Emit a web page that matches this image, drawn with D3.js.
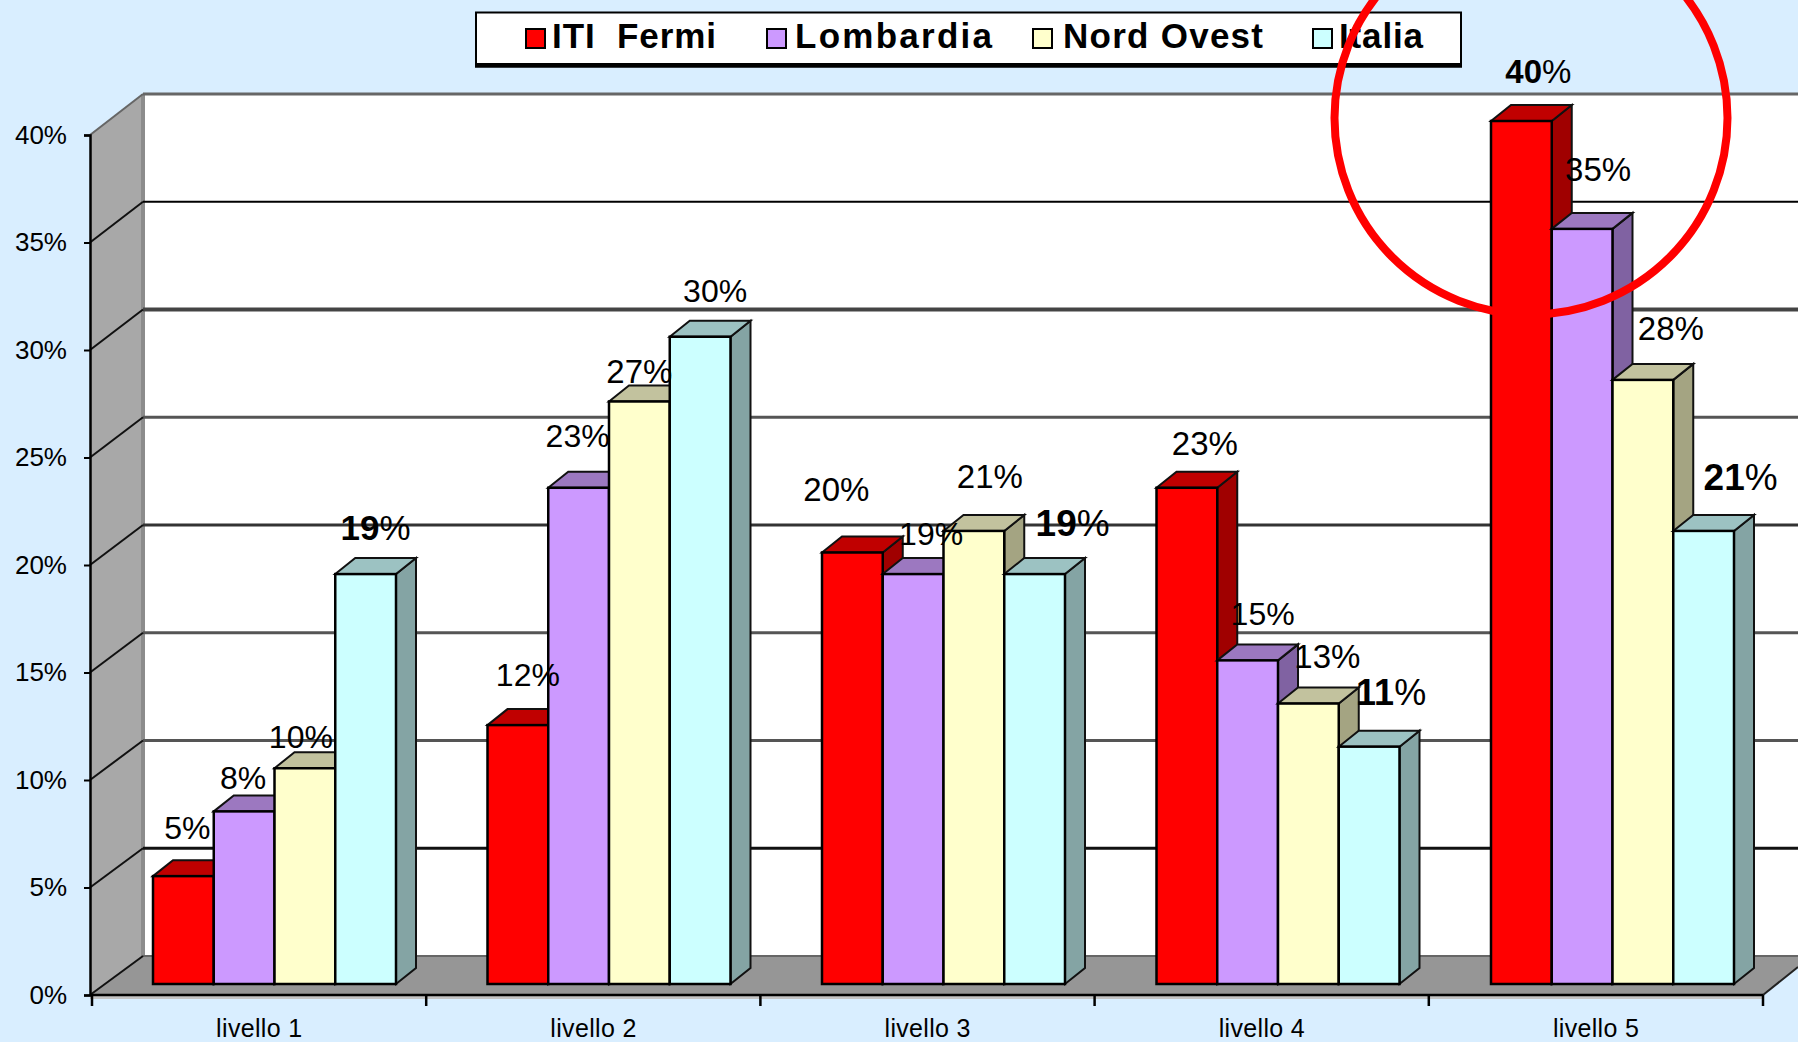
<!DOCTYPE html>
<html>
<head>
<meta charset="utf-8">
<script src="https://cdnjs.cloudflare.com/ajax/libs/d3/7.8.5/d3.min.js"></script>
<style>
  html, body { margin: 0; padding: 0; background: #d9eeff; overflow: hidden; }
  svg { display: block; font-family: "Liberation Sans", Arial, sans-serif; }
  text { white-space: pre; }
</style>
</head>
<body>
<div id="draw"></div>
<script>
var categories = ['livello 1', 'livello 2', 'livello 3', 'livello 4', 'livello 5'];
var seriesNames = ['ITI  Fermi', 'Lombardia', 'Nord Ovest', 'Italia'];
var itiFermi = [5, 12, 20, 23, 40];
var lombardia = [8, 23, 19, 15, 35];
var nordOvest = [10, 27, 21, 13, 28];
var italia = [19, 30, 19, 11, 21];
var yTicks = [0, 5, 10, 15, 20, 25, 30, 35, 40];

var W = 1798, H = 1042;
var allSeries = [itiFermi, lombardia, nordOvest, italia];

// front, top, side of each bar
var fills = [
  ['#ff0000', '#c00000', '#a00000'],
  ['#cc99ff', '#9c78c0', '#8062a2'],
  ['#ffffcc', '#c2c29e', '#a4a482'],
  ['#ccffff', '#9cc2c2', '#84a4a4']
];

// the three planes of the fake 3d box
var yFront = d3.scaleLinear().domain([0, 40]).range([995, 135]);
var yBack = d3.scaleLinear().domain([0, 40]).range([956, 94]);
var yBar = d3.scaleLinear().domain([0, 40]).range([984, 121]);
var xGroup = d3.scaleBand().domain(categories).range([92, 1763]);
var xBarGroup = d3.scaleBand().domain(categories).range([92, 1764.5]); // bars drift a little from the ticks
var xBar = d3.scaleBand().domain(d3.range(4)).range([61, 304]);
var depthX = 20, depthY = 16;
var wallX = 143, axisX = 90;

var svg = d3.select('#draw').append('svg').attr('width', W).attr('height', H);

svg.append('rect').attr('width', W).attr('height', H).attr('fill', '#d9eeff');

// back wall
svg.append('rect')
  .attr('x', wallX).attr('y', yBack(40))
  .attr('width', W - wallX).attr('height', yBack(0) - yBack(40))
  .attr('fill', '#fff');

// left wall
svg.append('polygon')
  .attr('points', [[axisX, yFront(40)], [wallX, yBack(40)], [wallX, yBack(0)], [axisX, yFront(0)]].join(' '))
  .attr('fill', '#a8a8a8');
svg.append('line')
  .attr('x1', wallX).attr('x2', wallX).attr('y1', yBack(40)).attr('y2', yBack(0))
  .attr('stroke', '#8c8c8c').attr('stroke-width', 4);

// floor
svg.append('polygon')
  .attr('points', [[axisX, yFront(0)], [wallX, yBack(0)], [W, yBack(0)], [W, 967], [1763, yFront(0)]].join(' '))
  .attr('fill', '#969696');
svg.append('line')
  .attr('x1', wallX).attr('x2', W).attr('y1', yBack(0)).attr('y2', yBack(0))
  .attr('stroke', '#666').attr('stroke-width', 2);
svg.append('line')
  .attr('x1', 1763).attr('x2', W).attr('y1', yFront(0)).attr('y2', 967)
  .attr('stroke', '#222').attr('stroke-width', 2);
svg.append('rect')
  .attr('x', axisX).attr('y', yFront(0) + 1).attr('width', 1673).attr('height', 3)
  .attr('fill', '#c4c4c4');

// gridlines: some came out thick and grey in the original
var gridStyle = {
  5: ['#111', 3], 10: ['#555', 3], 15: ['#555', 3], 20: ['#333', 3],
  25: ['#555', 3], 30: ['#444', 4], 35: ['#000', 2], 40: ['#666', 3]
};
yTicks.filter(function(t) { return t > 0; }).forEach(function(t) {
  svg.append('line')
    .attr('x1', wallX).attr('x2', W).attr('y1', yBack(t)).attr('y2', yBack(t))
    .attr('stroke', gridStyle[t][0]).attr('stroke-width', gridStyle[t][1]);
  svg.append('line')
    .attr('x1', axisX).attr('x2', wallX).attr('y1', yFront(t)).attr('y2', yBack(t))
    .attr('stroke', t === 40 ? '#666' : '#111').attr('stroke-width', 2);
});
svg.append('line')
  .attr('x1', axisX).attr('x2', wallX).attr('y1', yFront(0)).attr('y2', yBack(0))
  .attr('stroke', '#111').attr('stroke-width', 2);

// bars, left to right so the next one hides the side of the last
categories.forEach(function(cat, g) {
  var group = svg.append('g').attr('transform', 'translate(' + xBarGroup(cat) + ',0)');
  allSeries.forEach(function(values, s) {
    var x0 = xBar(s), x1 = x0 + xBar.bandwidth();
    var y0 = yBar(values[g]), y1 = yBar(0);

    group.append('polygon') // side
      .attr('points', [[x1, y0], [x1 + depthX, y0 - depthY], [x1 + depthX, y1 - depthY], [x1, y1]].join(' '))
      .attr('fill', fills[s][2]).attr('stroke', '#111').attr('stroke-width', 2);
    group.append('polygon') // top
      .attr('points', [[x0, y0], [x0 + depthX, y0 - depthY], [x1 + depthX, y0 - depthY], [x1, y0]].join(' '))
      .attr('fill', fills[s][1]).attr('stroke', '#111').attr('stroke-width', 2);
    group.append('rect') // front
      .attr('x', x0).attr('y', y0)
      .attr('width', x1 - x0).attr('height', y1 - y0)
      .attr('fill', fills[s][0]).attr('stroke', '#000').attr('stroke-width', 2.5);
  });
});

// y axis
var yAxis = d3.axisLeft(yFront)
  .tickValues(yTicks)
  .tickSize(6)
  .tickPadding(17)
  .tickFormat(function(d) { return d + '%'; });
var yG = svg.append('g').attr('transform', 'translate(' + axisX + ',0)').call(yAxis);
yG.select('.domain').attr('stroke', '#000').attr('stroke-width', 2.5);
yG.selectAll('.tick line').attr('stroke', '#000').attr('stroke-width', 2);
yG.selectAll('.tick text')
  .attr('font-family', '"Liberation Sans", Arial, sans-serif')
  .attr('font-size', 26).attr('fill', '#000').attr('dy', '0.32em');

// x axis, the ticks sit between the groups so only labels come from the axis
var xAxis = d3.axisBottom(xGroup).tickSize(0).tickPadding(24);
var xG = svg.append('g').attr('transform', 'translate(0,' + yFront(0) + ')').call(xAxis);
xG.select('.domain').remove();
xG.selectAll('.tick text')
  .attr('font-family', '"Liberation Sans", Arial, sans-serif')
  .attr('font-size', 25).attr('fill', '#000').attr('textLength', 86);
svg.append('line')
  .attr('x1', axisX).attr('x2', 1763).attr('y1', yFront(0)).attr('y2', yFront(0))
  .attr('stroke', '#000').attr('stroke-width', 2.5);
xGroup.domain().concat(['end']).forEach(function(c, i) {
  var tx = xGroup.range()[0] + i * xGroup.step();
  svg.append('line')
    .attr('x1', tx).attr('x2', tx).attr('y1', yFront(0)).attr('y2', yFront(0) + 11)
    .attr('stroke', '#000').attr('stroke-width', 2.5);
});

// the data labels were dragged around by hand in the original
var labelDx = [
  [4, -1, -4, 10],
  [10, -1, 0, 15],
  [-16, 18, 16, 38],
  [18, 15, 19, 22],
  [17, 16, 28, 37]
];
var labelDy = [
  [-37, -22, -20, -34.5],
  [-39, -41, -18, -34.5],
  [-52, -29.5, -42.5, -38.5],
  [-33, -35, -36, -42],
  [-38, -48, -40, -40.5]
];
var labelSize = [
  [32, 32, 32, 35],
  [32, 32, 33, 32],
  [33, 32, 33, 37],
  [33, 32, 33, 36],
  [33, 33, 33, 37]
];
var labelBold = [
  [0, 0, 0, 1],
  [0, 0, 0, 0],
  [0, 0, 0, 1],
  [0, 0, 0, 1],
  [1, 0, 0, 1]
];
categories.forEach(function(cat, g) {
  allSeries.forEach(function(values, s) {
    var t = svg.append('text')
      .attr('x', xBarGroup(cat) + xBar(s) + xBar.bandwidth() / 2 + labelDx[g][s])
      .attr('y', yBar(values[g]) + labelDy[g][s])
      .attr('text-anchor', 'middle')
      .attr('font-size', labelSize[g][s])
      .attr('fill', '#000');
    t.append('tspan').attr('font-weight', labelBold[g][s] ? 'bold' : 'normal').text(values[g]);
    t.append('tspan').text('%');
  });
});

// legend
svg.append('rect')
  .attr('x', 476).attr('y', 12.5).attr('width', 985).attr('height', 54)
  .attr('fill', '#fff').attr('stroke', '#000').attr('stroke-width', 2);
svg.append('rect')
  .attr('x', 475).attr('y', 63).attr('width', 987).attr('height', 4.5)
  .attr('fill', '#000');
var legendMark = [526, 767, 1033, 1313];
var legendText = [552, 795, 1063, 1339];
var legendLen = [164, 197, 200, 84];
seriesNames.forEach(function(name, s) {
  svg.append('rect')
    .attr('x', legendMark[s]).attr('y', 29).attr('width', 19).attr('height', 19)
    .attr('fill', fills[s][0]).attr('stroke', '#000').attr('stroke-width', 2);
  svg.append('text')
    .attr('x', legendText[s]).attr('y', 48)
    .attr('font-size', 35).attr('font-weight', 'bold').attr('fill', '#000')
    .attr('textLength', legendLen[s])
    .text(name);
});

// red circle put on top of the slide by hand
svg.append('circle')
  .attr('cx', 1531).attr('cy', 118).attr('r', 196.5)
  .attr('fill', 'none').attr('stroke', '#ff0000').attr('stroke-width', 8);
</script>
</body>
</html>
